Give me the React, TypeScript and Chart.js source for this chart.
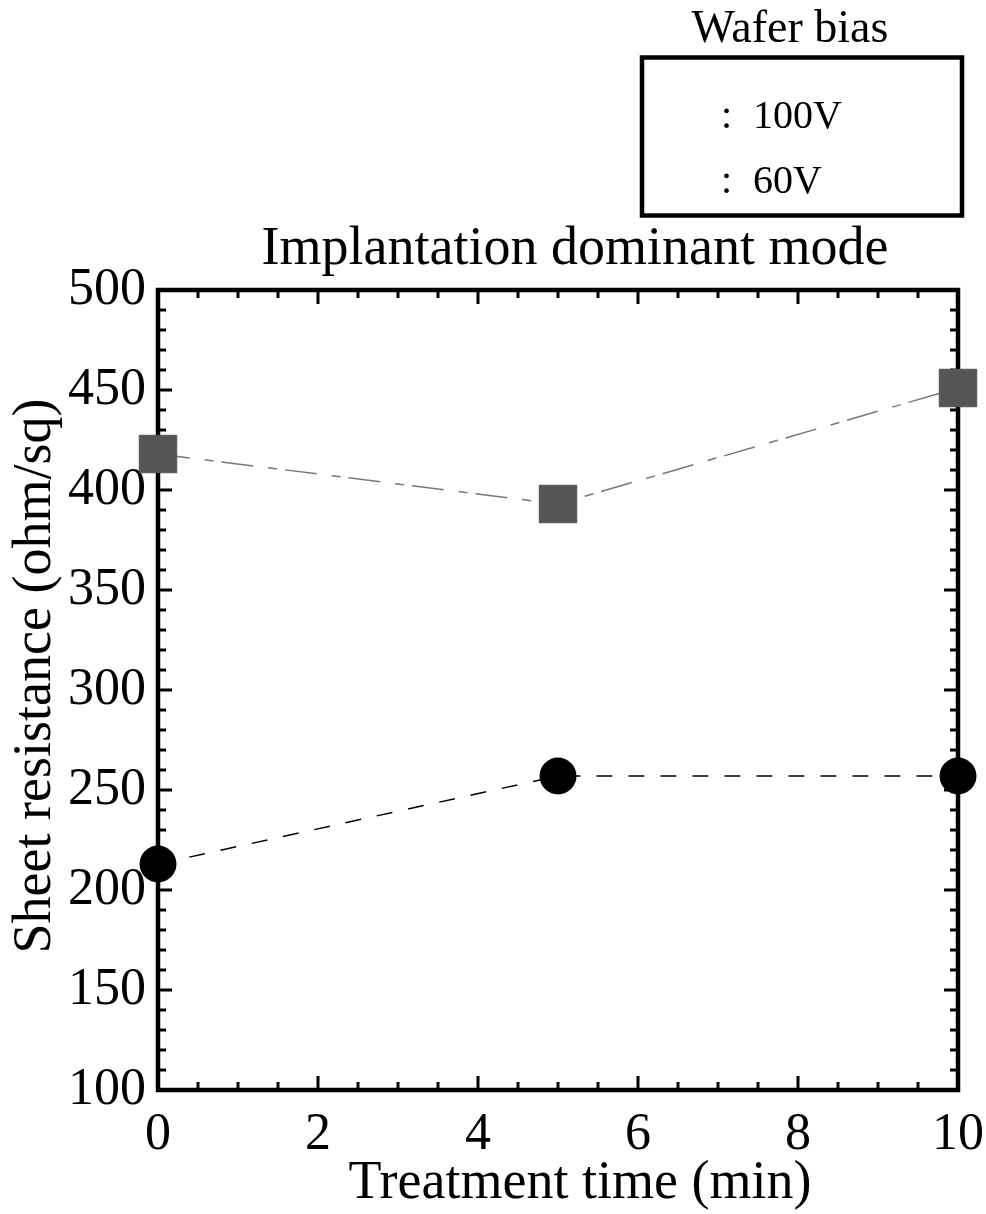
import React, { useEffect, useRef } from 'react';
import { Chart, registerables } from 'chart.js';

Chart.register(...registerables);

const timeMin = [0, 5, 10];
const bias100V = [418, 393, 451];
const bias60V = [213, 257, 257];
const xTickValues = [0, 2, 4, 6, 8, 10];
const yTickValues = [100, 150, 200, 250, 300, 350, 400, 450, 500];
const chartTitle = 'Implantation dominant mode';
const xTitle = 'Treatment time (min)';
const yTitle = 'Sheet resistance (ohm/sq)';
const legendTitle = 'Wafer bias';
const seriesLabels = ['100V', '60V'];

const SERIF = '"Liberation Serif", "Times New Roman", Times, serif';

const decor = {
  id: 'decor',
  beforeDatasetsDraw(chart: any) {
    const { ctx, chartArea: a, scales } = chart;
    const x = scales.x;
    const y = scales.y;
    ctx.save();
    ctx.strokeStyle = '#000';
    ctx.lineCap = 'butt';
    ctx.lineWidth = 3;
    const seg = (x1: number, y1: number, x2: number, y2: number) => {
      ctx.beginPath();
      ctx.moveTo(x1, y1);
      ctx.lineTo(x2, y2);
      ctx.stroke();
    };
    for (let v = 100; v <= 500; v += 10) {
      const py = y.getPixelForValue(v);
      const len = v % 50 === 0 ? 14 : 8;
      seg(a.left, py, a.left + len, py);
      seg(a.right, py, a.right - len, py);
    }
    for (let i = 0; i <= 20; i++) {
      const v = i * 0.5;
      const px = x.getPixelForValue(v);
      const len = i % 4 === 0 ? 14 : 8;
      seg(px, a.bottom, px, a.bottom - len);
      seg(px, a.top, px, a.top + len);
    }
    ctx.lineWidth = 4.5;
    ctx.strokeRect(a.left, a.top, a.right - a.left, a.bottom - a.top);
    ctx.restore();
  },
  afterDraw(chart: any) {
    const { ctx } = chart;
    ctx.save();
    ctx.fillStyle = '#000';
    ctx.textBaseline = 'middle';
    ctx.textAlign = 'center';
    ctx.font = `54px ${SERIF}`;
    ctx.fillText(chartTitle, 575, 250);
    ctx.fillText(xTitle, 580, 1184);
    ctx.save();
    ctx.translate(36, 676);
    ctx.rotate(-Math.PI / 2);
    ctx.fillText(yTitle, 0, 0);
    ctx.restore();

    // legend
    ctx.font = `46px ${SERIF}`;
    ctx.fillText(legendTitle, 790, 30);
    ctx.lineWidth = 4.5;
    ctx.strokeStyle = '#000';
    ctx.strokeRect(642, 57.5, 320, 158);
    ctx.font = `40px ${SERIF}`;
    ctx.textAlign = 'left';
    const rows = [117, 182];
    seriesLabels.forEach((lab, i) => {
      ctx.fillText(':', 721, rows[i]);
      ctx.fillText(lab, 753, rows[i]);
    });
    ctx.restore();
  },
};

export default function App() {
  const ref = useRef<HTMLCanvasElement | null>(null);
  useEffect(() => {
    if (!ref.current) return;
    const chart = new Chart(ref.current, {
      type: 'line',
      data: {
        datasets: [
          {
            label: seriesLabels[0],
            data: timeMin.map((t, i) => ({ x: t, y: bias100V[i] })),
            borderColor: '#777777',
            borderWidth: 1.5,
            borderDash: [32, 15, 9, 8],
            pointStyle: 'rect',
            pointRadius: 26.5,
            pointBackgroundColor: '#555555',
            pointBorderColor: '#555555',
            pointBorderWidth: 1,
            clip: false,
            tension: 0,
          },
          {
            label: seriesLabels[1],
            data: timeMin.map((t, i) => ({ x: t, y: bias60V[i] })),
            borderColor: '#000000',
            borderWidth: 1.5,
            borderDash: [16, 16],
            pointStyle: 'circle',
            pointRadius: 18.5,
            pointBackgroundColor: '#000000',
            pointBorderColor: '#000000',
            pointBorderWidth: 0,
            clip: false,
            tension: 0,
          },
        ],
      },
      options: {
        animation: false,
        responsive: false,
        maintainAspectRatio: false,
        layout: { padding: { top: 290, right: 28, left: 0, bottom: 0 } },
        plugins: {
          legend: { display: false },
          title: { display: false },
          tooltip: { enabled: false },
        },
        scales: {
          x: {
            type: 'linear',
            min: 0,
            max: 10,
            grid: { display: false, drawTicks: false },
            border: { display: false },
            afterBuildTicks: (s: any) => {
              s.ticks = xTickValues.map((v) => ({ value: v }));
            },
            afterFit: (s: any) => {
              s.height = 124;
              s.paddingLeft = 0;
              s.paddingRight = 0;
            },
            ticks: {
              autoSkip: false,
              maxRotation: 0,
              padding: 14,
              color: '#000',
              font: { family: SERIF, size: 52 },
            },
          },
          y: {
            type: 'linear',
            min: 100,
            max: 500,
            grid: { display: false, drawTicks: false },
            border: { display: false },
            afterBuildTicks: (s: any) => {
              s.ticks = yTickValues.map((v) => ({ value: v }));
            },
            afterFit: (s: any) => {
              s.width = 158;
              s.paddingTop = 0;
              s.paddingBottom = 0;
            },
            ticks: {
              autoSkip: false,
              padding: 12,
              color: '#000',
              font: { family: SERIF, size: 52 },
            },
          },
        },
      },
      plugins: [decor],
    });
    return () => chart.destroy();
  }, []);
  return (
    <div style={{ position: 'absolute', left: 0, top: 0, width: 986, height: 1214, background: '#fff' }}>
      <canvas ref={ref} width={986} height={1214} style={{ display: 'block', width: 986, height: 1214 }} />
    </div>
  );
}
